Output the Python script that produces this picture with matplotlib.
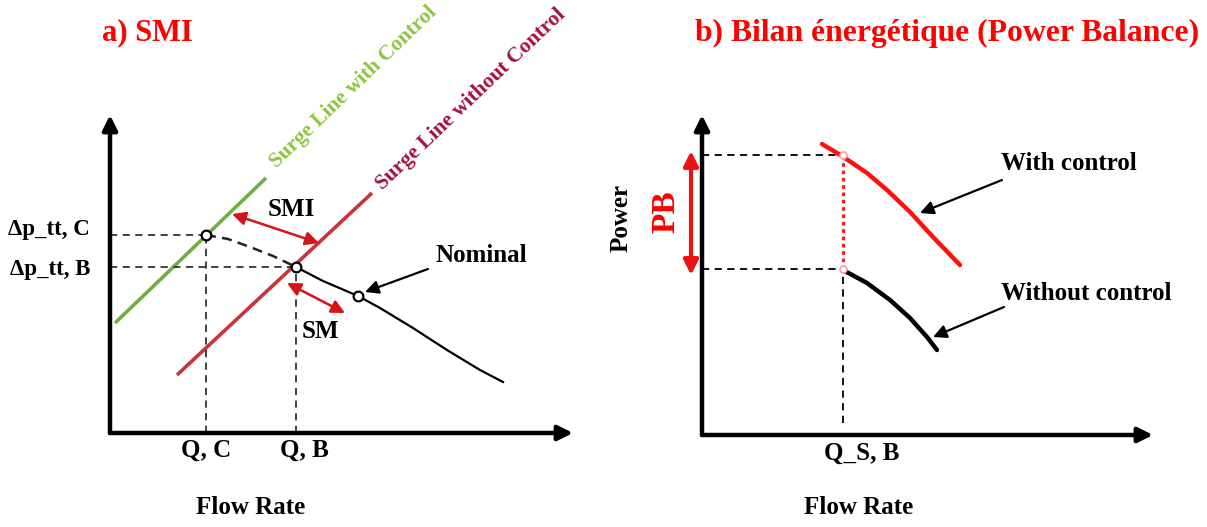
import matplotlib
matplotlib.use("Agg")
import numpy as np
import matplotlib.pyplot as plt

plt.rcParams['font.family'] = ['Liberation Serif', 'DejaVu Serif']
plt.rcParams['font.weight'] = 'bold'

# ---- panel a) SMI : values read off the schematic (flow rate, pressure rise) ----
surge_ctrl_q = [5, 156]
surge_ctrl_dp = [110, 255]
surge_noctrl_q = [67, 262]
surge_noctrl_dp = [58, 240]
# operating line: dashed part C -> B, solid part B -> end
op_dash_q = [96, 118, 140, 163, 186]
op_dash_dp = [198, 194, 186, 177, 166]
op_solid_q = [186, 213, 248, 270, 303, 337, 370, 393]
op_solid_dp = [166, 152, 137, 125, 105, 83, 63, 51]
pt_C = (96, 198)
pt_B = (186, 166)
pt_nominal = (248, 137)
dp_labels = ["Δp_tt, C", "Δp_tt, B"]
q_labels = ["Q, C", "Q, B"]

# ---- panel b) power balance ----
p_ctrl_q = [120, 140, 165, 185, 208, 231, 258]
p_ctrl_p = [291, 279, 262, 245, 223, 198, 170]
p_noctrl_q = [141, 165, 188, 208, 225, 235]
p_noctrl_p = [165, 152, 135, 117, 98, 85]
q_sb = 141
p_hi = 280
p_lo = 166

W, H = 1207, 527
fig = plt.figure(figsize=(W / 100, H / 100), dpi=100)


def px_axes(left, base, w, h):
    ax = fig.add_axes([left / W, (H - base) / H, w / W, h / H])
    ax.set_xlim(0, w)
    ax.set_ylim(0, h)
    ax.axis('off')
    return ax


def axis_arrows(ax, xtip, ytip):
    for tip in [(xtip, 0), (0, ytip)]:
        ax.annotate('', xy=tip, xytext=(0, 0),
                    arrowprops=dict(arrowstyle='-|>', lw=3.2, color='black',
                                    mutation_scale=22, shrinkA=0, shrinkB=0),
                    annotation_clip=False)


def arrow(ax, start, end, style, color, lw=1.8, ms=20):
    ax.annotate('', xy=end, xytext=start,
                arrowprops=dict(arrowstyle=style, lw=lw, color=color,
                                mutation_scale=ms, shrinkA=0, shrinkB=0),
                annotation_clip=False)


dash = (0, (4, 3))
fs = 18

# ================= panel a =================
ax = px_axes(110, 433, 470, 330)
axis_arrows(ax, 463, 318)

ax.plot(surge_ctrl_q, surge_ctrl_dp, color='#6db043', lw=2.6, solid_capstyle='butt')
ax.plot(surge_noctrl_q, surge_noctrl_dp, color='#c9343c', lw=2.6, solid_capstyle='butt')

for (q, dp) in [pt_C, pt_B]:
    ax.plot([0, q], [dp, dp], color='#333333', lw=1.3, linestyle=dash)
    ax.plot([q, q], [0, dp], color='#333333', lw=1.3, linestyle=dash)

ax.plot(op_dash_q, op_dash_dp, color='#222222', lw=1.8, linestyle=(0, (4, 2.5)))
ax.plot(op_solid_q, op_solid_dp, color='black', lw=1.6, solid_joinstyle='round')
for p in [pt_C, pt_B, pt_nominal]:
    ax.plot(*p, 'o', ms=7, mfc='white', mec='black', mew=1.6, zorder=5)

arrow(ax, (122, 219), (209, 190), '<|-|>', '#d4141c')
arrow(ax, (177, 150), (235, 120), '<|-|>', '#d4141c')
arrow(ax, (318, 164), (pt_nominal[0] + 7, pt_nominal[1] + 4), '-|>', 'black', lw=1.6)

ax.text(181, 223, "SMI", fontsize=fs, ha='center', va='center')
ax.text(210, 101, "SM", fontsize=fs, ha='center', va='center')
ax.text(326, 178, "Nominal", fontsize=fs, ha='left', va='center')
ax.text(-20, pt_C[1] + 5, dp_labels[0], fontsize=16.5, ha='right', va='center')
ax.text(-20, pt_B[1] - 3, dp_labels[1], fontsize=16.5, ha='right', va='center')
ax.text(pt_C[0], -17, q_labels[0], fontsize=fs, ha='center', va='center')
ax.text(pt_B[0] + 8, -17, q_labels[1], fontsize=fs, ha='center', va='center')
ax.text(141, -74, "Flow Rate", fontsize=fs, ha='center', va='center')
ax.text(-8, 400, "a) SMI", fontsize=22, color='#ff0000', ha='left', va='center')
ax.text(243, 346, "Surge Line with Control", fontsize=15.5, color='#8cc63e',
        rotation=44, rotation_mode='anchor', ha='center', va='center')
ax.text(361, 334, "Surge Line without Control", fontsize=15.5, color='#a3123a',
        rotation=43.6, rotation_mode='anchor', ha='center', va='center')

# ================= panel b =================
bx = px_axes(702, 435, 460, 330)
axis_arrows(bx, 451, 320)

bx.plot([0, q_sb], [p_hi, p_hi], color='black', lw=1.3, linestyle=dash)
bx.plot([0, q_sb], [p_lo, p_lo], color='black', lw=1.3, linestyle=dash)
bx.plot([q_sb, q_sb], [12, p_lo], color='black', lw=1.3, linestyle=dash)
bx.plot([q_sb, q_sb], [p_lo, p_hi], color='#ff1a1a', lw=2.2, linestyle=(0, (1.2, 1.2)))

bx.plot(p_ctrl_q, p_ctrl_p, color='#ff1010', lw=3.2, solid_capstyle='round',
        solid_joinstyle='round')
bx.plot(p_noctrl_q, p_noctrl_p, color='black', lw=3.2, solid_capstyle='round',
        solid_joinstyle='round')
bx.plot([q_sb, q_sb], [p_hi, p_lo], 'o', ms=5, mfc='white', mec='#f2a0a0', mew=1.2, zorder=5)

arrow(bx, (-11, p_lo - 6), (-11, p_hi + 4), '<|-|>', '#ee1111', lw=3, ms=22)
arrow(bx, (300, 255), (218, 222), '-|>', 'black', lw=1.6)
arrow(bx, (302, 128), (231, 98), '-|>', 'black', lw=1.6)

bx.text(-36, 223, "PB", fontsize=24, color='#ff0000', rotation=90, ha='center', va='center')
bx.text(-81, 217, "Power", fontsize=18, rotation=90, ha='center', va='center')
bx.text(299, 272, "With control", fontsize=fs, ha='left', va='center')
bx.text(299, 142, "Without control", fontsize=fs, ha='left', va='center')
bx.text(160, -18, "Q_S, B", fontsize=fs, ha='center', va='center')
bx.text(157, -72, "Flow Rate", fontsize=fs, ha='center', va='center')
bx.text(-7, 402, "b) Bilan énergétique (Power Balance)", fontsize=22.8, color='#ff0000',
        ha='left', va='center')

fig.savefig('out.png', dpi=100)
